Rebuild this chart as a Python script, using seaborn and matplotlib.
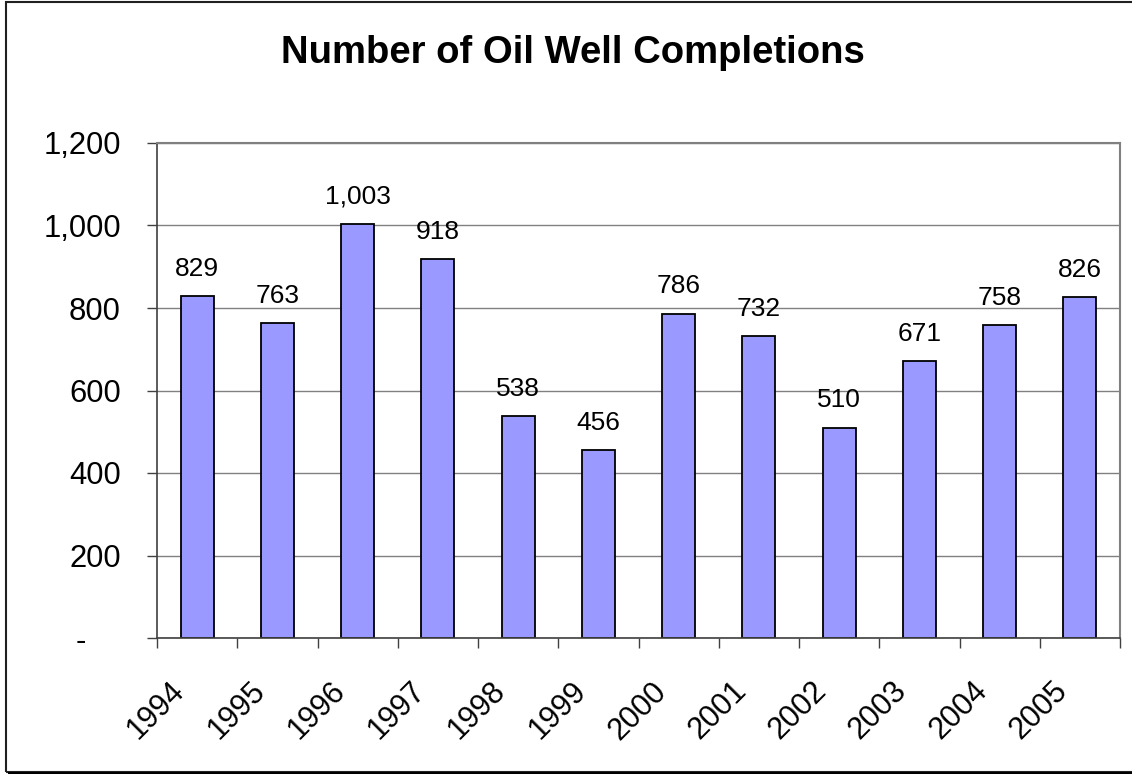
import seaborn as sns
import numpy as np
import pandas as pd
from matplotlib import pyplot as plt
from matplotlib import transforms
from matplotlib.patches import Rectangle
from matplotlib.ticker import FuncFormatter

years = ['1994', '1995', '1996', '1997', '1998', '1999',
         '2000', '2001', '2002', '2003', '2004', '2005']
completions = [829, 763, 1003, 918, 538, 456, 786, 732, 510, 671, 758, 826]
y_ticks = [0, 200, 400, 600, 800, 1000, 1200]

df = pd.DataFrame({'year': years, 'wells': completions})

sns.set_style('white')
plt.rcParams['font.family'] = ['Liberation Sans', 'DejaVu Sans']
plt.rcParams['text.color'] = 'black'
plt.rcParams['xtick.color'] = 'black'
plt.rcParams['ytick.color'] = 'black'

fig = plt.figure(figsize=(11.32, 7.74), dpi=100)
ax = fig.add_axes([157 / 1132, 1 - 638 / 774, 963 / 1132, 495 / 774])

sns.barplot(
    x='year',
    y='wells',
    data=df,
    color='#9999FF',
    saturation=1,
    width=0.41,
    edgecolor='black',
    linewidth=1.3,
    ax=ax
)

# value labels above the bars
ax.bar_label(ax.containers[0], labels=[f'{v:,}' for v in completions],
             padding=11, fontsize=19, color='black')

ax.set_xlim(-0.5, len(years) - 0.5)
ax.set_ylim(0, 1200)
ax.set_yticks(y_ticks)
ax.yaxis.set_major_formatter(
    FuncFormatter(lambda v, p: '-    ' if v == 0 else f'{int(v):,}'))
ax.set_xlabel('')
ax.set_ylabel('')

ax.yaxis.grid(True, color='#808080', linewidth=1)
ax.set_axisbelow(True)

for side in ['top', 'right']:
    ax.spines[side].set_color('#808080')
    ax.spines[side].set_linewidth(1.5)
for side in ['left', 'bottom']:
    ax.spines[side].set_color('#404040')
    ax.spines[side].set_linewidth(1.2)

ax.tick_params(axis='y', left=True, length=7, width=1, color='#404040',
               pad=19, labelsize=22.3, labelcolor='black')

# category boundaries get the tick marks, centres get the labels
ax.set_xticks(np.arange(-0.5, len(years), 1), minor=True)
ax.tick_params(axis='x', which='minor', bottom=True, length=7, width=1,
               color='#404040')
ax.tick_params(axis='x', which='major', bottom=False, length=0, pad=35,
               labelsize=22, labelcolor='black')
shift = transforms.ScaledTranslation(-17 / 100, 0, fig.dpi_scale_trans)
for lbl in ax.get_xticklabels():
    lbl.set_rotation(45)
    lbl.set_ha('right')
    lbl.set_va('center')
    lbl.set_rotation_mode('anchor')
    lbl.set_transform(lbl.get_transform() + shift)

fig.text(573 / 1132, 1 - 53 / 774, 'Number of Oil Well Completions',
         ha='center', va='center', fontsize=27.5, fontweight='bold',
         color='black')

# chart frame
fig.patches.append(Rectangle((6 / 1132, 2 / 774), 1.0, 770 / 774,
                             transform=fig.transFigure, fill=False,
                             edgecolor='#202020', linewidth=1.5))
fig.patches.append(Rectangle((8 / 1132, 0), 1.0, 2.5 / 774,
                             transform=fig.transFigure, facecolor='black',
                             edgecolor='none'))

plt.savefig('out.png', dpi=100)
plt.clf()
